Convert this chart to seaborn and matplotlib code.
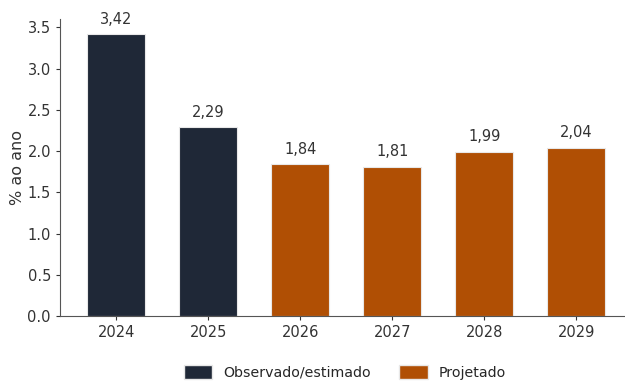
import matplotlib
matplotlib.use("Agg")
import matplotlib.pyplot as plt
import seaborn as sns
import pandas as pd
from matplotlib.patches import Patch

years = ["2024", "2025", "2026", "2027", "2028", "2029"]
values = [3.42, 2.29, 1.84, 1.81, 1.99, 2.04]
groups = ["Observado/estimado", "Observado/estimado", "Projetado", "Projetado", "Projetado", "Projetado"]
labels = ["3,42", "2,29", "1,84", "1,81", "1,99", "2,04"]
colors = {"Observado/estimado": "#1f2837", "Projetado": "#b04f04"}

df = pd.DataFrame({"ano": years, "valor": values, "grupo": groups})

sns.set_style("ticks")
plt.rcParams["font.family"] = ["DejaVu Sans"]
fig = plt.figure(figsize=(6.25, 3.83), dpi=100)
ax = fig.add_axes([0.096, 0.175, 0.904, 0.775])

sns.barplot(data=df, x="ano", y="valor", hue="grupo", palette=colors, dodge=False, saturation=1,
            width=0.63, edgecolor="#e8e8e8", linewidth=0.8, legend=False, ax=ax)

for i, (v, lab) in enumerate(zip(values, labels)):
    ax.text(i, v + 0.09, lab, ha="center", va="bottom", fontsize=10.5, color="#333333")

ax.set_xlim(-0.61, 5.53)
ax.set_ylim(0, 3.6)
ax.set_yticks([0, 0.5, 1.0, 1.5, 2.0, 2.5, 3.0, 3.5])
ax.set_yticklabels(["0.0", "0.5", "1.0", "1.5", "2.0", "2.5", "3.0", "3.5"])
ax.set_xlabel("")
ax.set_ylabel("% ao ano", fontsize=11.5, color="#333333", labelpad=2)
ax.tick_params(labelsize=10.5, colors="#333333", length=3)
for s in ["top", "right"]:
    ax.spines[s].set_visible(False)
for s in ["left", "bottom"]:
    ax.spines[s].set_color("#555555")

handles = [Patch(facecolor=colors[g], edgecolor="#e8e8e8", label=g) for g in ["Observado/estimado", "Projetado"]]
fig.legend(handles=handles, loc="lower center", bbox_to_anchor=(0.552, -0.025), ncol=2, frameon=False,
           fontsize=10.2, handlelength=2.0, handleheight=1.1, handletextpad=0.8, columnspacing=2.0)

fig.savefig("out.png", dpi=100)
